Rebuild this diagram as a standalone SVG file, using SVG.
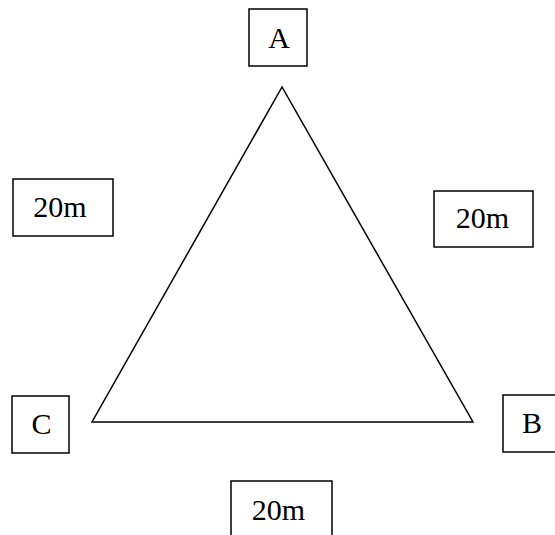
<svg xmlns="http://www.w3.org/2000/svg" width="555" height="535" viewBox="0 0 555 535">
<style>
.box{fill:#fff;stroke:#000;stroke-width:1.5}
.lbl{font-family:"Liberation Serif","Times New Roman",serif;font-size:30px;fill:#000;text-anchor:middle}
.edge{fill:none;stroke:#000;stroke-width:1.5;stroke-linejoin:miter}
</style>
<rect width="555" height="535" fill="#fff"/>
<g id="connectors">
<polygon class="edge" points="282,87 92,422 473,422"/>
</g>
<g id="nodeA"><rect class="box" x="249" y="9" width="58" height="57"/><text class="lbl" x="279" y="48">A</text></g>
<g id="label-left"><rect class="box" x="13" y="179" width="100" height="57"/><text class="lbl" x="60" y="217">20m</text></g>
<g id="label-right"><rect class="box" x="434" y="191" width="99" height="56"/><text class="lbl" x="482.5" y="228">20m</text></g>
<g id="nodeC"><rect class="box" x="12" y="396" width="57" height="57"/><text class="lbl" x="41.5" y="434">C</text></g>
<g id="nodeB"><rect class="box" x="503" y="395" width="58" height="57"/><text class="lbl" x="532" y="433">B</text></g>
<g id="label-bottom"><rect class="box" x="231" y="481" width="101" height="60"/><text class="lbl" x="278.5" y="520">20m</text></g>
</svg>
